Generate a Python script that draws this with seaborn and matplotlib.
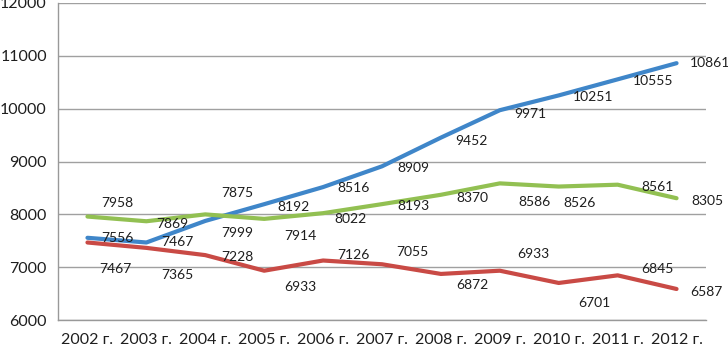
import matplotlib
matplotlib.use("Agg")
import matplotlib.pyplot as plt
import numpy as np
import pandas as pd
import seaborn as sns

years = ['2002 г.', '2003 г.', '2004 г.', '2005 г.', '2006 г.', '2007 г.',
         '2008 г.', '2009 г.', '2010 г.', '2011 г.', '2012 г.']
blue = [7556, 7467, 7875, 8192, 8516, 8909, 9452, 9971, 10251, 10555, 10861]
green = [7958, 7869, 7999, 7914, 8022, 8193, 8370, 8586, 8526, 8561, 8305]
red = [7467, 7365, 7228, 6933, 7126, 7055, 6872, 6933, 6701, 6845, 6587]
y_ticks = [6000, 7000, 8000, 9000, 10000, 11000, 12000]

# label offsets in pixels (dx, dy), excel put them in odd spots
blue_off = [(30, 0), (31, 0), (32, 28), (29, -3), (30, -1), (31, -2), (31, -3), (30, -4), (34, -2), (35, -2), (34, 0)]
green_off = [(30, 14), (26, -3), (32, -19), (36, -17), (27, -6), (31, -2), (31, -3), (35, -19), (21, -16), (40, -2), (31, -3)]
red_off = [(28, -27), (31, -27), (32, -2), (36, -16), (30, 6), (30, 12), (31, -11), (33, 17), (36, -20), (40, 6), (30, -3)]

x = np.arange(len(years)) + 0.5
df = pd.DataFrame({
    'x': np.concatenate([x, x, x]),
    'value': blue + green + red,
    'series': ['blue'] * 11 + ['green'] * 11 + ['red'] * 11,
})
colors = {'blue': '#3f86c9', 'green': '#92c052', 'red': '#c94a45'}

sns.set_style('white')
plt.rcParams['font.family'] = ['Lato', 'DejaVu Sans']

fig = plt.figure(figsize=(7.28, 3.53), dpi=100)
ax = fig.add_axes([58 / 728, 33 / 353, 648 / 728, 317 / 353])
sns.lineplot(data=df, x='x', y='value', hue='series', palette=colors,
             linewidth=3, legend=False, ax=ax, zorder=3)

for vals, offs in [(blue, blue_off), (green, green_off), (red, red_off)]:
    for xi, v, (dx, dy) in zip(x, vals, offs):
        ax.annotate(str(v), (xi, v), xytext=(dx * 0.72, dy * 0.72),
                    textcoords='offset points', ha='center', va='center',
                    fontsize=10, color='#1e1e1e', zorder=4)

ax.set_xlim(0, 11)
ax.set_ylim(6000, 12000)
ax.set_yticks(y_ticks)
ax.set_yticklabels([str(t) for t in y_ticks], fontsize=11.5, color='#1e1e1e')
ax.set_xticks(np.arange(12))
ax.set_xticklabels([])
ax.set_xticks(x, minor=True)
ax.set_xticklabels(years, minor=True, fontsize=11.5, color='#1e1e1e')
ax.tick_params(axis='x', which='major', length=4, width=1, color='#999999', direction='out')
ax.tick_params(axis='x', which='minor', length=0, pad=9)
ax.tick_params(axis='y', length=5, width=1, color='#999999', direction='out', pad=3)
ax.yaxis.grid(True, color='#a0a0a0', linewidth=1)
ax.set_xlabel('')
ax.set_ylabel('')
for s in ['top', 'right']:
    ax.spines[s].set_visible(False)
for s in ['left', 'bottom']:
    ax.spines[s].set_color('#999999')
    ax.spines[s].set_linewidth(1)

fig.savefig('out.png', dpi=100)
